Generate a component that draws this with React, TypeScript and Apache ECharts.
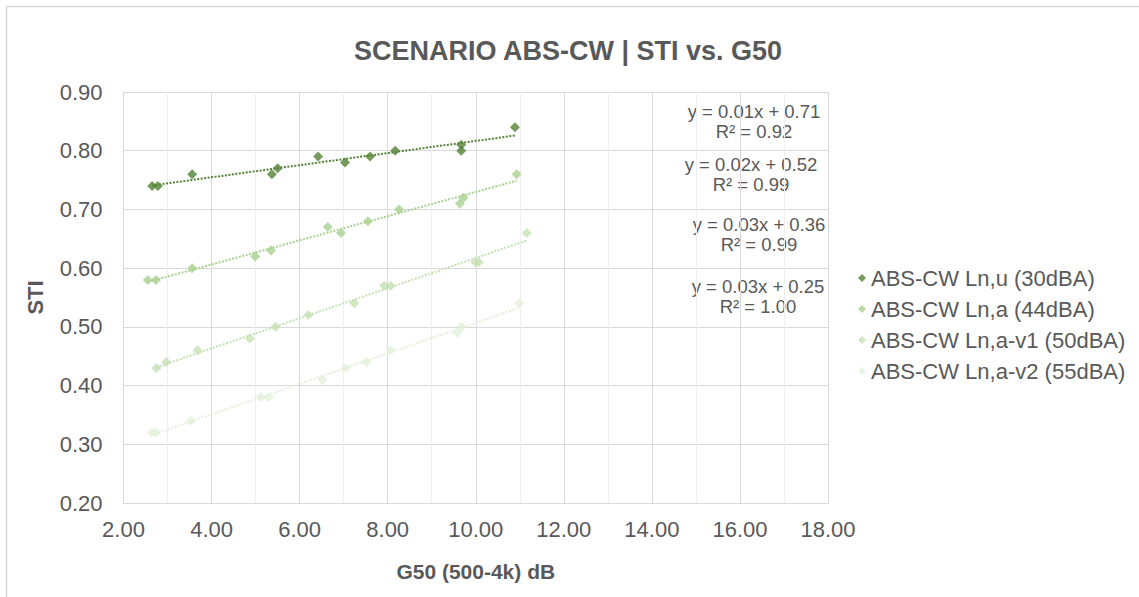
import React, { useEffect, useRef } from "react";
import * as echarts from "echarts";

const seriesNames = [
  "ABS-CW Ln,u (30dBA)",
  "ABS-CW Ln,a (44dBA)",
  "ABS-CW Ln,a-v1 (50dBA)",
  "ABS-CW Ln,a-v2 (55dBA)",
];
const seriesColors = ["#548235", "#A9D18E", "#C5E0B4", "#E2F0D9"];

const lnU: [number, number][] = [
  [2.65, 0.74], [2.78, 0.74], [3.56, 0.76], [5.37, 0.76], [5.5, 0.77],
  [6.42, 0.79], [7.03, 0.78], [7.6, 0.79], [8.17, 0.8], [9.67, 0.81],
  [9.67, 0.8], [10.89, 0.84],
];
const lnA: [number, number][] = [
  [2.55, 0.58], [2.74, 0.58], [3.56, 0.6], [4.99, 0.62], [5.35, 0.63],
  [6.64, 0.67], [6.94, 0.66], [7.55, 0.68], [8.26, 0.7], [9.64, 0.71],
  [9.72, 0.72], [10.93, 0.76],
];
const lnAv1: [number, number][] = [
  [2.75, 0.43], [2.97, 0.44], [3.68, 0.46], [4.87, 0.48], [5.45, 0.5],
  [6.2, 0.52], [7.24, 0.54], [7.92, 0.57], [8.07, 0.57], [9.99, 0.61],
  [10.07, 0.61], [11.16, 0.66],
];
const lnAv2: [number, number][] = [
  [2.64, 0.32], [2.73, 0.32], [3.53, 0.34], [5.12, 0.38], [5.3, 0.38],
  [6.52, 0.41], [7.05, 0.43], [7.52, 0.44], [8.07, 0.46], [9.58, 0.49],
  [9.68, 0.5], [10.99, 0.54],
];
const allData = [lnU, lnA, lnAv1, lnAv2];

const trendLabels = [
  "y = 0.01x + 0.71\nR² = 0.92",
  "y = 0.02x + 0.52\nR² = 0.99",
  "y = 0.03x + 0.36\nR² = 0.99",
  "y = 0.03x + 0.25\nR² = 1.00",
];
const trendLabelPos = [
  [754, 101],
  [751, 154],
  [759, 214],
  [758, 276],
];

const titleText = "SCENARIO ABS-CW | STI vs. G50";
const xName = "G50 (500-4k) dB";
const yName = "STI";

const FONT = "'Liberation Sans', Arial, Helvetica, sans-serif";
const TEXT = "#595959";

function fit(d: [number, number][]): [number, number][] {
  const n = d.length;
  let sx = 0, sy = 0, sxx = 0, sxy = 0;
  d.forEach(([x, y]) => { sx += x; sy += y; sxx += x * x; sxy += x * y; });
  const b = (n * sxy - sx * sy) / (n * sxx - sx * sx);
  const a = (sy - b * sx) / n;
  const xs = d.map((p) => p[0]);
  const x0 = Math.min(...xs), x1 = Math.max(...xs);
  return [[x0, a + b * x0], [x1, a + b * x1]];
}

export default function App() {
  const ref = useRef<HTMLDivElement>(null);
  useEffect(() => {
    if (!ref.current) return;
    const chart = echarts.init(ref.current, null, { renderer: "svg" });
    const series: any[] = [];
    allData.forEach((d, i) => {
      series.push({
        name: seriesNames[i],
        type: "scatter",
        data: d,
        symbol: "diamond",
        symbolSize: 10,
        itemStyle: { color: seriesColors[i] },
        z: 3,
      });
    });
    allData.forEach((d, i) => {
      series.push({
        name: "trend" + i,
        type: "line",
        data: fit(d),
        symbol: "none",
        silent: true,
        lineStyle: { color: seriesColors[i], width: 2, type: [2, 1.5] },
        z: 2,
      });
    });
    chart.setOption({
      animation: false,
      backgroundColor: "#ffffff",
      textStyle: { fontFamily: FONT },
      title: {
        text: titleText,
        left: 563,
        top: 32,
        textAlign: "center",
        textStyle: { fontFamily: FONT, fontSize: 27, fontWeight: "bold", color: TEXT },
      },
      grid: { left: 123.5, right: 311, top: 92, bottom: 94, containLabel: false },
      legend: {
        data: seriesNames,
        orient: "vertical",
        left: 853,
        top: 262,
        itemGap: 9,
        itemWidth: 8,
        itemHeight: 8,
        icon: "diamond",
        textStyle: { fontFamily: FONT, fontSize: 22, color: TEXT },
      },
      xAxis: {
        type: "value",
        min: 2,
        max: 18,
        interval: 2,
        name: xName,
        nameLocation: "middle",
        nameGap: 58,
        nameTextStyle: { fontFamily: FONT, fontSize: 21, fontWeight: "bold", color: TEXT },
        axisLine: { show: true, lineStyle: { color: "#d9d9d9" } },
        axisTick: { show: false },
        axisLabel: {
          fontFamily: FONT,
          fontSize: 22,
          color: TEXT,
          margin: 15,
          formatter: (v: number) => v.toFixed(2),
        },
        splitLine: { show: true, lineStyle: { color: "#d9d9d9", width: 1 } },
        minorTick: { show: false, splitNumber: 2 },
        minorSplitLine: { show: true, lineStyle: { color: "#efefef", width: 1 } },
      },
      yAxis: {
        type: "value",
        min: 0.2,
        max: 0.9,
        interval: 0.1,
        name: yName,
        nameLocation: "middle",
        nameGap: 77,
        nameTextStyle: { fontFamily: FONT, fontSize: 22, fontWeight: "bold", color: TEXT },
        axisLine: { show: true, lineStyle: { color: "#d9d9d9" } },
        axisTick: { show: false },
        axisLabel: {
          fontFamily: FONT,
          fontSize: 22,
          color: TEXT,
          margin: 21,
          formatter: (v: number) => v.toFixed(2),
        },
        splitLine: { show: true, lineStyle: { color: "#d9d9d9", width: 1 } },
      },
      graphic: [
        {
          type: "rect",
          silent: true,
          shape: { x: 6.5, y: 6.5, width: 1300, height: 800 },
          style: { fill: "none", stroke: "#d9d9d9", lineWidth: 1.5 },
        },
        ...trendLabels.map((t, i) => ({
          type: "text",
          x: trendLabelPos[i][0],
          y: trendLabelPos[i][1],
          silent: true,
          style: {
            text: t,
            textAlign: "center",
            textVerticalAlign: "top",
            fontFamily: FONT,
            fontSize: 18.5,
            lineHeight: 20.5,
            fill: TEXT,
          },
        })),
      ],
      series,
    });
    return () => chart.dispose();
  }, []);
  return (
    <div
      ref={ref}
      style={{ position: "absolute", left: 0, top: 0, width: 1139, height: 597 }}
    />
  );
}
